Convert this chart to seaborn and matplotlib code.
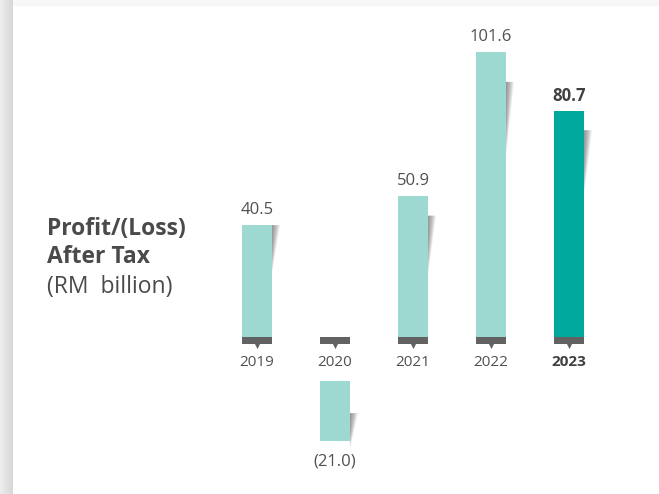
import numpy as np
import matplotlib
matplotlib.use("Agg")
import matplotlib.pyplot as plt
import seaborn as sns
from matplotlib.patches import Polygon, Rectangle

# ---- data ----
years = ["2019", "2020", "2021", "2022", "2023"]
values = [40.5, -21.0, 50.9, 101.6, 80.7]
labels = ["40.5", "(21.0)", "50.9", "101.6", "80.7"]

# ---- style ----
sns.set_theme(style="white")
plt.rcParams["font.family"] = ["Open Sans", "DejaVu Sans"]

LIGHT = "#9dd8d1"
DARK = "#00a99d"
GREY = "#626262"
TXT = "#505050"
colors = [DARK if y == "2023" else LIGHT for y in years]

W, H = 659, 494
fig = plt.figure(figsize=(W / 100, H / 100), dpi=100)

# background card with soft shadow
bg = fig.add_axes([0, 0, 1, 1])
img = np.ones((H, W, 3))
for x in range(13):
    c = 0.93 - 0.085 * (x / 12.0)
    img[:, x, :] = c
for y in range(7):
    c = 0.975 - 0.01 * (y / 6.0)
    img[y, 13:, :] = np.minimum(img[y, 13:, :], c)
bg.imshow(img, extent=[0, W, H, 0], aspect="auto", interpolation="bilinear")
bg.set_axis_off()

ax = fig.add_axes([0, 0, 1, 1])
ax.patch.set_alpha(0)

px_per_unit = 2.835
base_px = 340.0
step = 78.0
c0 = 257.0

bw = 30.0 / step
pos_vals = [max(v, 0) for v in values]
sns.barplot(x=years, y=pos_vals, hue=years, palette=colors, legend=False,
            width=bw, ax=ax, saturation=1, linewidth=0)
ax.set_xlim(-c0 / step, (W - c0) / step)
ax.set_ylim(-(H - base_px) / px_per_unit, base_px / px_per_unit)

u = 1.0 / px_per_unit  # one pixel in y data units
xu = 1.0 / step        # one pixel in x data units

neg_top = -14.5
for i, (v, col) in enumerate(zip(values, colors)):
    if v < 0:
        ax.bar(i, v, bottom=neg_top, width=bw, color=col, linewidth=0, zorder=2)

# shadows on the right of each bar (wedge fading)
def shadow(xr, ytop, length, width_px=8):
    n = 12
    for k in range(n):
        f = (k + 1) / n
        poly = Polygon([(xr, ytop), (xr + width_px * xu * f, ytop),
                        (xr, ytop - length * (1 - 0.5 * (1 - f)))],
                       closed=True, facecolor="#555555", edgecolor="none",
                       alpha=0.07, zorder=1)
        ax.add_patch(poly)

shadow_cfg = {0: (0, 48), 1: (32, 36), 2: (20, 60), 3: (30, 75), 4: (19, 65)}
for i, v in enumerate(values):
    off, ln = shadow_cfg[i]
    xr = i + bw / 2
    if v >= 0:
        ytop = v - off * u
    else:
        ytop = neg_top - off * u
    shadow(xr, ytop, ln * u)

# baseline markers
for i in range(len(years)):
    ax.add_patch(Rectangle((i - bw / 2, -4 * u), bw, 7 * u, facecolor=GREY,
                           edgecolor="none", zorder=3))
ax.scatter(range(len(years)), [-6.3 * u] * len(years), marker="v", s=14,
           color=GREY, linewidths=0, zorder=3)

# year labels
for i, y in enumerate(years):
    ax.text(i, -22 * u, y, ha="center", va="center", fontsize=11,
            color=TXT if y != "2023" else "#404040",
            fontweight="bold" if y == "2023" else "normal")

# value labels
for i, (v, lab) in enumerate(zip(values, labels)):
    bold = years[i] == "2023"
    if v >= 0:
        ax.text(i, v + 15 * u, lab, ha="center", va="center", fontsize=12,
                color="#404040" if bold else TXT,
                fontweight="bold" if bold else "normal")
    else:
        ax.text(i, neg_top + v - 21 * u, lab, ha="center", va="center",
                fontsize=12, color=TXT)

# title
fig.text(47 / W, 1 - 229 / H, "Profit/(Loss)", ha="left", va="center",
         fontsize=16.5, fontweight="bold", color="#4a4a4a")
fig.text(47 / W, 1 - 257 / H, "After Tax", ha="left", va="center",
         fontsize=16.5, fontweight="bold", color="#4a4a4a")
fig.text(47 / W, 1 - 287 / H, "(RM  billion)", ha="left", va="center",
         fontsize=16.5, color="#4a4a4a")

ax.set_axis_off()
fig.savefig("out.png", dpi=100)
